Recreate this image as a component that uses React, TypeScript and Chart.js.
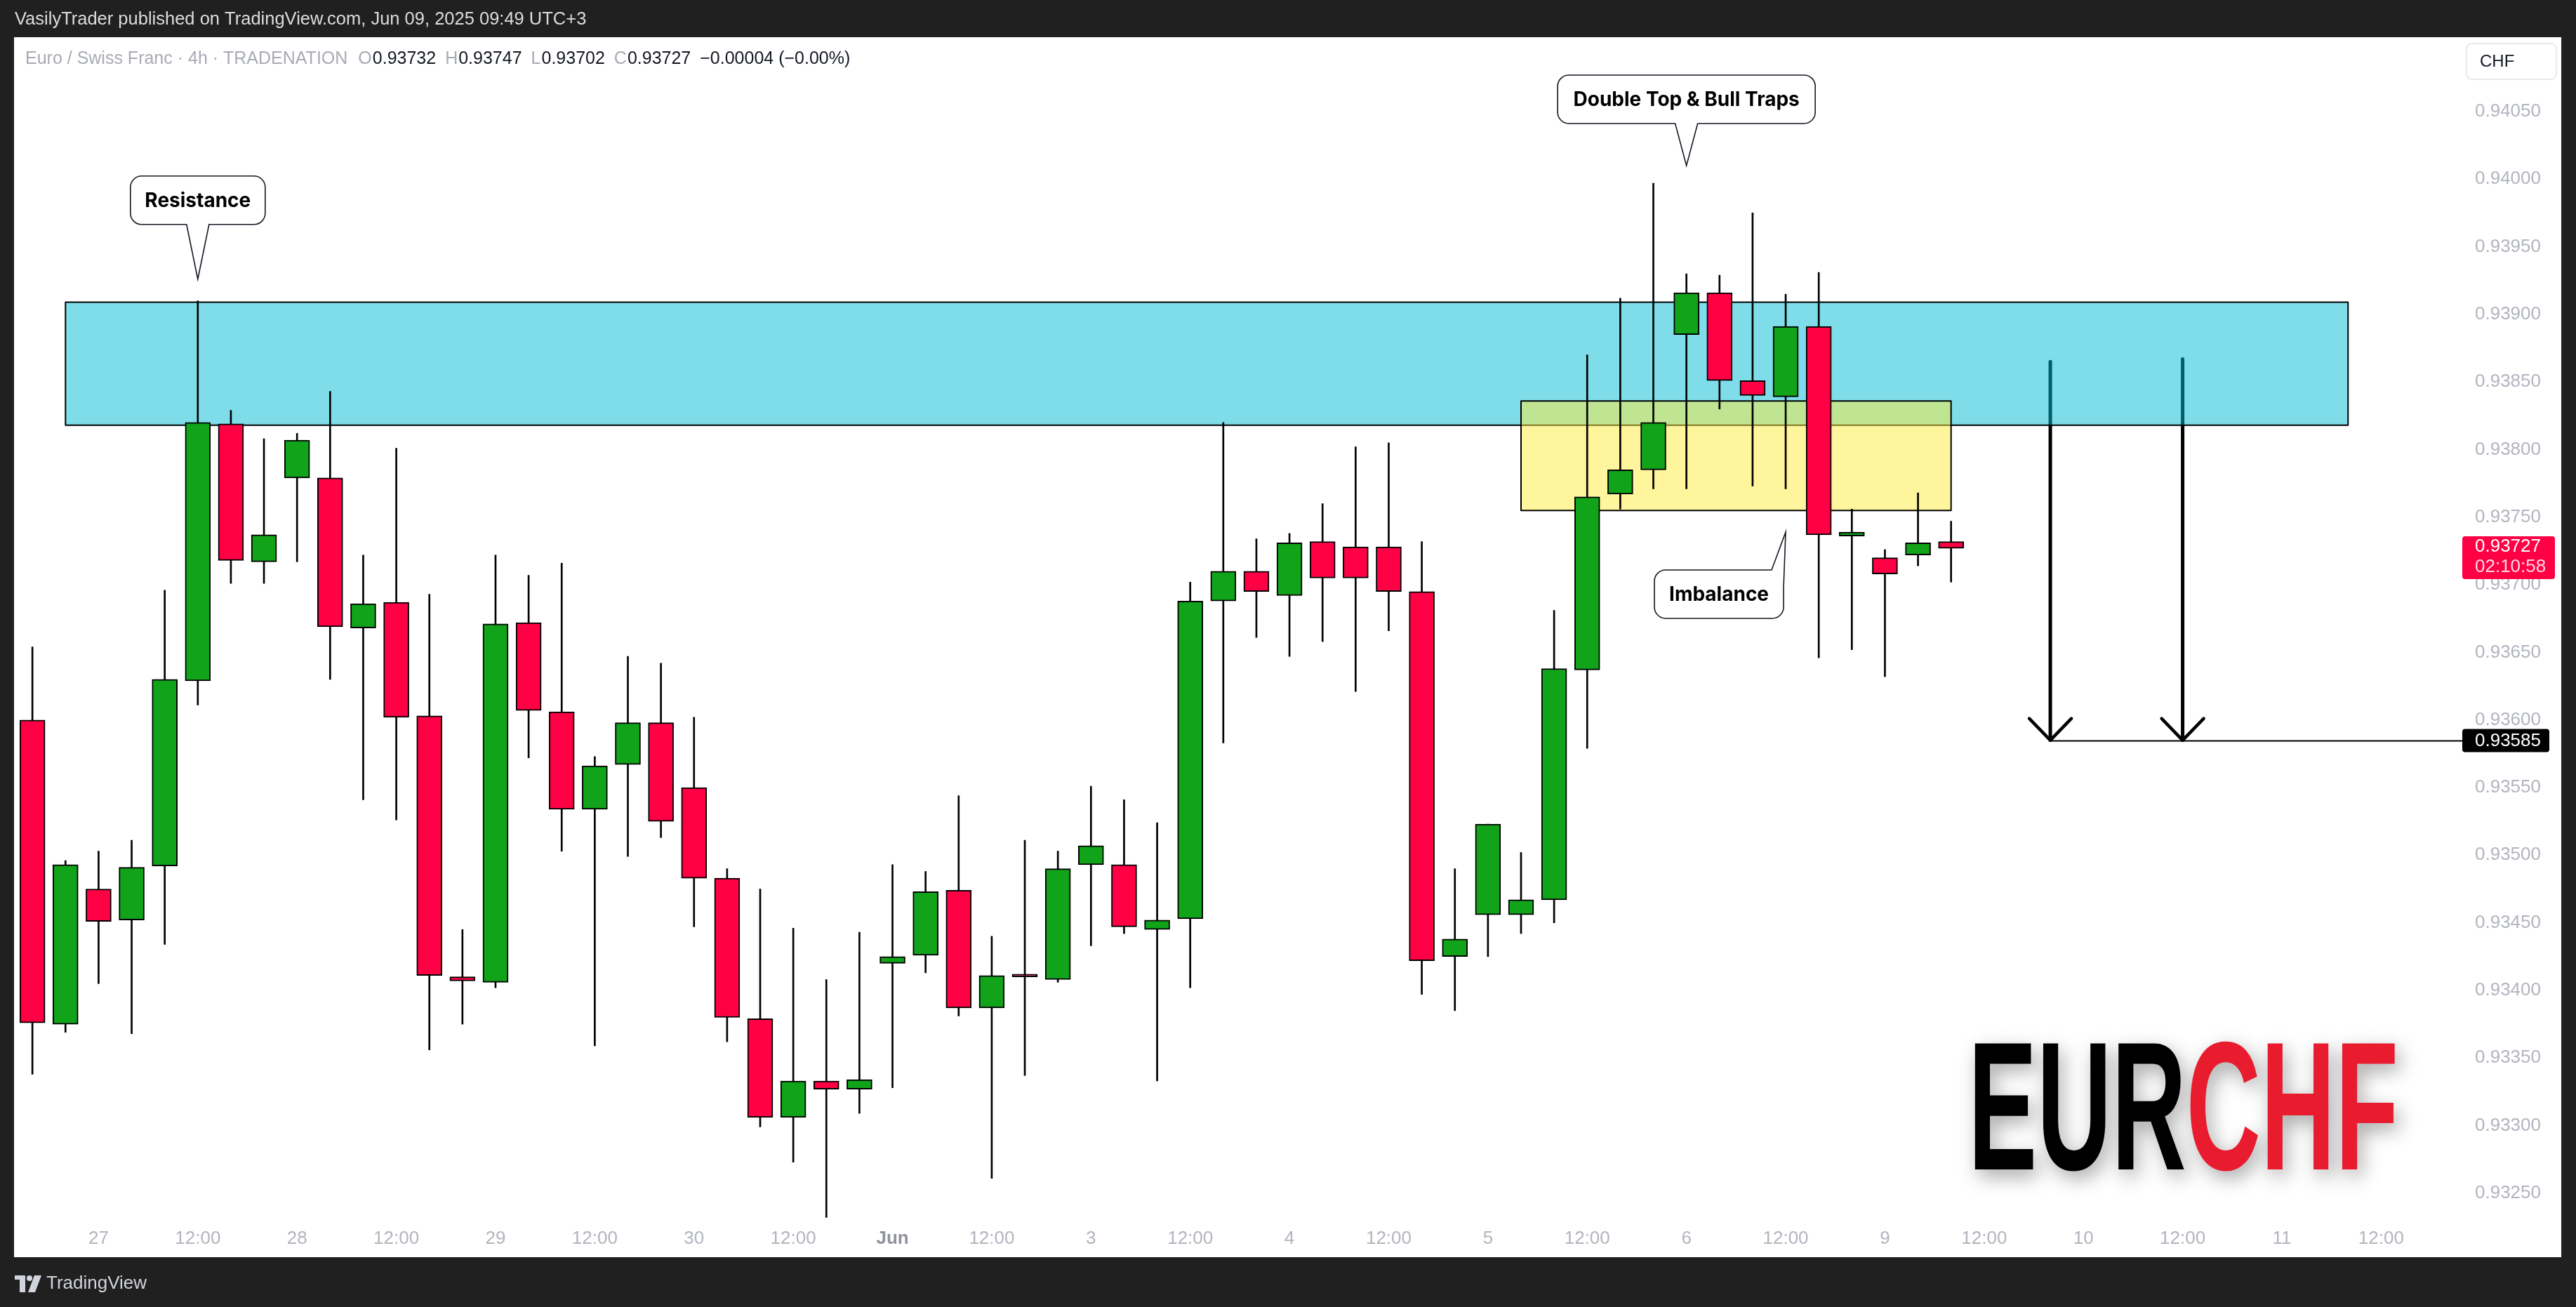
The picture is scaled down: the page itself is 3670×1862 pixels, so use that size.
import React, { useEffect, useRef } from 'react';
import { Chart, registerables } from 'chart.js';

Chart.register(...registerables);

// ---------------- data ----------------
const barIndex = [-2, -1, 0, 1, 2, 3, 4, 5, 6, 7, 8, 9, 10, 11, 12, 13, 14, 15, 16, 17, 18, 19, 20, 21, 22, 23, 24, 25, 26, 27, 28, 29, 30, 31, 32, 33, 34, 35, 36, 37, 38, 39, 40, 41, 42, 43, 44, 45, 46, 47, 48, 49, 50, 51, 52, 53, 54, 55, 56];
const opens = [0.93600, 0.93375, 0.93475, 0.93452, 0.93492, 0.93629, 0.93819, 0.93717, 0.93779, 0.93779, 0.93668, 0.93687, 0.93603, 0.93410, 0.93406, 0.93672, 0.93606, 0.93534, 0.93567, 0.93598, 0.93550, 0.93483, 0.93379, 0.93306, 0.93333, 0.93327, 0.93420, 0.93426, 0.93474, 0.93387, 0.93412, 0.93408, 0.93493, 0.93493, 0.93445, 0.93453, 0.93688, 0.93710, 0.93692, 0.93732, 0.93728, 0.93728, 0.93695, 0.93425, 0.93456, 0.93456, 0.93467, 0.93637, 0.93767, 0.93785, 0.93885, 0.93916, 0.93851, 0.93839, 0.93891, 0.93736, 0.93720, 0.93722, 0.93732];
const highs = [0.93654, 0.93496, 0.93503, 0.93511, 0.93696, 0.93910, 0.93829, 0.93808, 0.93812, 0.93843, 0.93722, 0.93801, 0.93693, 0.93445, 0.93722, 0.93707, 0.93716, 0.93573, 0.93647, 0.93642, 0.93602, 0.93490, 0.93475, 0.93446, 0.93408, 0.93443, 0.93493, 0.93488, 0.93544, 0.93440, 0.93511, 0.93503, 0.93551, 0.93541, 0.93524, 0.93702, 0.93820, 0.93734, 0.93738, 0.93760, 0.93802, 0.93805, 0.93732, 0.93490, 0.93523, 0.93502, 0.93681, 0.93870, 0.93912, 0.93997, 0.93930, 0.93929, 0.93975, 0.93915, 0.93931, 0.93756, 0.93726, 0.93768, 0.93747];
const lows = [0.93338, 0.93369, 0.93405, 0.93368, 0.93434, 0.93611, 0.93701, 0.93701, 0.93717, 0.93630, 0.93541, 0.93526, 0.93356, 0.93375, 0.93402, 0.93572, 0.93503, 0.93359, 0.93499, 0.93513, 0.93447, 0.93362, 0.93299, 0.93273, 0.93232, 0.93309, 0.93328, 0.93413, 0.93381, 0.93261, 0.93337, 0.93406, 0.93433, 0.93442, 0.93333, 0.93402, 0.93583, 0.93661, 0.93647, 0.93658, 0.93621, 0.93666, 0.93397, 0.93385, 0.93425, 0.93442, 0.93450, 0.93579, 0.93756, 0.93771, 0.93771, 0.93830, 0.93773, 0.93771, 0.93646, 0.93652, 0.93632, 0.93714, 0.93702];
const closes = [0.93376, 0.93493, 0.93451, 0.93491, 0.93630, 0.93820, 0.93718, 0.93737, 0.93807, 0.93669, 0.93686, 0.93602, 0.93411, 0.93407, 0.93671, 0.93607, 0.93534, 0.93566, 0.93598, 0.93525, 0.93483, 0.93380, 0.93306, 0.93333, 0.93327, 0.93334, 0.93425, 0.93473, 0.93387, 0.93411, 0.93410, 0.93490, 0.93507, 0.93447, 0.93452, 0.93688, 0.93710, 0.93695, 0.93731, 0.93705, 0.93705, 0.93695, 0.93422, 0.93438, 0.93523, 0.93467, 0.93638, 0.93765, 0.93785, 0.93820, 0.93916, 0.93851, 0.93840, 0.93891, 0.93737, 0.93739, 0.93708, 0.93731, 0.93727];

const timeTickIndex = [0, 3, 6, 9, 12, 15, 18, 21, 24, 27, 30, 33, 36, 39, 42, 45, 48, 51, 54, 57, 60, 63, 66, 69];
const timeTickLabels = ['27', '12:00', '28', '12:00', '29', '12:00', '30', '12:00', 'Jun', '12:00', '3', '12:00', '4', '12:00', '5', '12:00', '6', '12:00', '9', '12:00', '10', '12:00', '11', '12:00'];
const monthTickLabels = ['Jun'];
const priceTicks = [0.9325, 0.933, 0.9335, 0.934, 0.9345, 0.935, 0.9355, 0.936, 0.9365, 0.937, 0.9375, 0.938, 0.9385, 0.939, 0.9395, 0.94, 0.9405];

// drawings (in data coordinates)
const zoneStart = [-1, 43];
const zoneEnd = [68, 56];
const zoneTop = [0.93909, 0.93836];
const zoneBottom = [0.93818, 0.93755];
const zoneFill = ['rgba(0,188,212,0.5)', 'rgba(255,235,59,0.5)'];

const arrowIndex = [59, 63];
const arrowFrom = [0.93865, 0.93867];
const targetPrice = 0.93585;
const targetStart = 59;

const calloutTexts = ['Resistance', 'Double Top & Bull Traps', 'Imbalance'];
const calloutIndex = [3, 48, 51];
const calloutPrice = [0.93926, 0.9401, 0.93739];

const headerText = 'VasilyTrader published on TradingView.com, Jun 09, 2025 09:49 UTC+3';
const symbolTitle = 'Euro / Swiss Franc · 4h · TRADENATION';
const legendKeys = ['O', 'H', 'L', 'C'];
const legendValues = ['0.93732', '0.93747', '0.93702', '0.93727'];
const legendChange = '\u22120.00004 (\u22120.00%)';
const currencyLabel = 'CHF';
const countdownText = '02:10:58';
const logoLeft = 'EUR';
const logoRight = 'CHF';
const footerText = 'TradingView';

// ---------------- layout / style ----------------
const W = 3670;
const H = 1862;
const PANEL = { left: 20, top: 53, right: 3649, bottom: 1791 };
const PLOT_RIGHT = 3497;
const X_AXIS_H = 53;
const X_MIN = -2.555;
const X_MAX = 71.22;
const Y_MIN = 0.932302;
const Y_MAX = 0.94105;
const DARK = '#202020';
const UP = '#11a31a';
const DOWN = '#ff0044';
const AXIS_TXT = '#b2b5be';
const SANS = '"Liberation Sans", Arial, sans-serif';
const BOLD_UI = 'Inter, "Liberation Sans", sans-serif';

type Geo = { l: number; t: number; r: number; b: number };

function bubbleBottom(ctx: CanvasRenderingContext2D, g: Geo, rad: number, tx: number, ty: number, hw: number) {
  const { l, t, r, b } = g;
  ctx.beginPath();
  ctx.moveTo(l + rad, t);
  ctx.lineTo(r - rad, t);
  ctx.arcTo(r, t, r, t + rad, rad);
  ctx.lineTo(r, b - rad);
  ctx.arcTo(r, b, r - rad, b, rad);
  ctx.lineTo(tx + hw, b);
  ctx.lineTo(tx, ty);
  ctx.lineTo(tx - hw, b);
  ctx.lineTo(l + rad, b);
  ctx.arcTo(l, b, l, b - rad, rad);
  ctx.lineTo(l, t + rad);
  ctx.arcTo(l, t, l + rad, t, rad);
  ctx.closePath();
}

function bubbleTopRight(ctx: CanvasRenderingContext2D, g: Geo, rad: number, tx: number, ty: number, baseX: number, joinY: number) {
  const { l, t, r, b } = g;
  ctx.beginPath();
  ctx.moveTo(l + rad, t);
  ctx.lineTo(baseX, t);
  ctx.lineTo(tx, ty);
  ctx.lineTo(r, joinY);
  ctx.lineTo(r, b - rad);
  ctx.arcTo(r, b, r - rad, b, rad);
  ctx.lineTo(l + rad, b);
  ctx.arcTo(l, b, l, b - rad, rad);
  ctx.lineTo(l, t + rad);
  ctx.arcTo(l, t, l + rad, t, rad);
  ctx.closePath();
}

function roundRect(ctx: CanvasRenderingContext2D, l: number, t: number, w: number, h: number, r: number) {
  ctx.beginPath();
  ctx.moveTo(l + r, t);
  ctx.arcTo(l + w, t, l + w, t + h, r);
  ctx.arcTo(l + w, t + h, l, t + h, r);
  ctx.arcTo(l, t + h, l, t, r);
  ctx.arcTo(l, t, l + w, t, r);
  ctx.closePath();
}

const overlayPlugin = {
  id: 'tvOverlay',
  beforeDraw(chart: any) {
    const ctx: CanvasRenderingContext2D = chart.ctx;
    ctx.save();
    ctx.fillStyle = DARK;
    ctx.fillRect(0, 0, W, H);
    ctx.fillStyle = '#ffffff';
    ctx.fillRect(PANEL.left, PANEL.top, PANEL.right - PANEL.left, PANEL.bottom - PANEL.top);
    ctx.restore();
  },
  beforeDatasetsDraw(chart: any) {
    const ctx: CanvasRenderingContext2D = chart.ctx;
    const a = chart.chartArea;
    const xs = chart.scales.x;
    const ys = chart.scales.y;
    ctx.save();
    ctx.beginPath();
    ctx.rect(a.left, a.top, a.right - a.left, a.bottom - a.top);
    ctx.clip();
    // arrows
    ctx.strokeStyle = '#000';
    ctx.lineCap = 'round';
    ctx.lineJoin = 'round';
    arrowIndex.forEach((xi, k) => {
      const x = xs.getPixelForValue(xi);
      const y0 = ys.getPixelForValue(arrowFrom[k]);
      const y1 = ys.getPixelForValue(targetPrice);
      ctx.lineWidth = 5;
      ctx.beginPath();
      ctx.moveTo(x, y0);
      ctx.lineTo(x, y1);
      ctx.stroke();
      ctx.lineWidth = 4.5;
      ctx.beginPath();
      ctx.moveTo(x - 30, y1 - 31);
      ctx.lineTo(x, y1);
      ctx.lineTo(x + 30, y1 - 31);
      ctx.stroke();
    });
    // zones
    zoneStart.forEach((s, k) => {
      const x0 = xs.getPixelForValue(s);
      const x1 = xs.getPixelForValue(zoneEnd[k]);
      const yt = ys.getPixelForValue(zoneTop[k]);
      const yb = ys.getPixelForValue(zoneBottom[k]);
      ctx.fillStyle = zoneFill[k];
      ctx.fillRect(x0, yt, x1 - x0, yb - yt);
      ctx.lineWidth = 2;
      ctx.strokeStyle = '#000';
      ctx.strokeRect(x0, yt, x1 - x0, yb - yt);
    });
    ctx.restore();
    // target line
    ctx.save();
    const ty = Math.round(ys.getPixelForValue(targetPrice)) + 0.5;
    ctx.strokeStyle = '#000';
    ctx.lineWidth = 2;
    ctx.beginPath();
    ctx.moveTo(xs.getPixelForValue(targetStart), ty);
    ctx.lineTo(3510, ty);
    ctx.stroke();
    ctx.restore();
  },
  afterDatasetsDraw(chart: any) {
    const ctx: CanvasRenderingContext2D = chart.ctx;
    const xs = chart.scales.x;
    const ys = chart.scales.y;
    ctx.save();
    ctx.lineWidth = 1.6;
    ctx.strokeStyle = '#131722';
    ctx.fillStyle = '#ffffff';
    ctx.font = `700 28px ${BOLD_UI}`;
    ctx.textAlign = 'center';
    ctx.textBaseline = 'middle';
    calloutTexts.forEach((txt, k) => {
      const tx = xs.getPixelForValue(calloutIndex[k]);
      const ty = ys.getPixelForValue(calloutPrice[k]);
      let g: Geo;
      if (k === 2) {
        g = { l: tx - 187, r: tx - 3, t: ty + 54, b: ty + 123 };
        bubbleTopRight(ctx, g, 16, tx, ty, g.r - 17, g.t + 25);
      } else {
        const w = k === 0 ? 192 : 367;
        const gap = k === 0 ? 78 : 60;
        g = { l: tx - w / 2, r: tx + w / 2, b: ty - gap, t: ty - gap - 69 };
        bubbleBottom(ctx, g, 16, tx, ty, 16);
      }
      ctx.fillStyle = '#ffffff';
      ctx.fill();
      ctx.stroke();
      ctx.fillStyle = '#000000';
      ctx.fillText(txt, (g.l + g.r) / 2, (g.t + g.b) / 2 + 1);
    });
    ctx.restore();
  },
  afterDraw(chart: any) {
    const ctx: CanvasRenderingContext2D = chart.ctx;
    const ys = chart.scales.y;
    ctx.save();
    // header
    ctx.font = `25.5px ${SANS}`;
    ctx.fillStyle = '#dcdcdc';
    ctx.textBaseline = 'middle';
    ctx.textAlign = 'left';
    ctx.fillText(headerText, 21, 28);

    // legend
    let lx = 36;
    const ly = 84;
    ctx.font = `25px ${SANS}`;
    ctx.fillStyle = '#a8abb4';
    ctx.fillText(symbolTitle, lx, ly);
    lx += ctx.measureText(symbolTitle).width + 15;
    legendKeys.forEach((key, k) => {
      ctx.fillStyle = '#a8abb4';
      ctx.fillText(key, lx, ly);
      lx += ctx.measureText(key).width + 1;
      ctx.fillStyle = '#131722';
      ctx.fillText(legendValues[k], lx, ly);
      lx += ctx.measureText(legendValues[k]).width + 13;
    });
    ctx.fillStyle = '#131722';
    ctx.fillText(legendChange, lx, ly);

    // currency box
    ctx.strokeStyle = '#e0e3eb';
    ctx.lineWidth = 1.5;
    roundRect(ctx, 3514, 62, 128, 51, 8);
    ctx.fillStyle = '#ffffff';
    ctx.fill();
    ctx.stroke();
    ctx.fillStyle = '#131722';
    ctx.font = `24px ${SANS}`;
    ctx.fillText(currencyLabel, 3533, 88);

    // current price label
    const last = closes[closes.length - 1];
    const py = ys.getPixelForValue(last);
    ctx.fillStyle = DOWN;
    roundRect(ctx, 3508, py - 17, 132, 61, 4);
    ctx.fill();
    ctx.font = `26px ${SANS}`;
    ctx.fillStyle = '#ffffff';
    ctx.fillText(last.toFixed(5), 3526, py - 2);
    ctx.fillStyle = 'rgba(255,255,255,0.85)';
    ctx.fillText(countdownText, 3526, py + 27);

    // target label
    const ty = ys.getPixelForValue(targetPrice);
    ctx.fillStyle = '#000000';
    roundRect(ctx, 3508, ty - 16, 124, 33, 4);
    ctx.fill();
    ctx.fillStyle = '#ffffff';
    ctx.fillText(targetPrice.toFixed(5), 3526, ty + 1);

    // EURCHF logo
    ctx.font = `bold 261px "Liberation Sans Narrow", "Liberation Sans", sans-serif`;
    ctx.textBaseline = 'alphabetic';
    const w1 = ctx.measureText(logoLeft).width;
    const w2 = ctx.measureText(logoRight).width;
    const sx = 613 / (w1 + w2);
    ctx.save();
    ctx.shadowColor = 'rgba(0,0,0,0.35)';
    ctx.shadowBlur = 28;
    ctx.shadowOffsetX = 6;
    ctx.shadowOffsetY = 10;
    ctx.translate(2804, 1666);
    ctx.scale(sx, 1);
    ctx.fillStyle = '#000000';
    ctx.fillText(logoLeft, 0, 0);
    ctx.fillStyle = '#e81c2e';
    ctx.fillText(logoRight, w1, 0);
    ctx.restore();

    // footer logo
    ctx.fillStyle = '#d1d4dc';
    ctx.fillRect(21, 1817, 15, 6);
    ctx.fillRect(28, 1817, 8, 24);
    ctx.beginPath();
    ctx.arc(42, 1821, 4, 0, Math.PI * 2);
    ctx.fill();
    ctx.beginPath();
    ctx.moveTo(49, 1817);
    ctx.lineTo(59, 1817);
    ctx.lineTo(50, 1841);
    ctx.lineTo(40, 1841);
    ctx.closePath();
    ctx.fill();
    ctx.font = `26px ${SANS}`;
    ctx.textBaseline = 'middle';
    ctx.fillText(footerText, 66, 1829);
    ctx.restore();
  },
};

export default function App() {
  const ref = useRef<HTMLCanvasElement>(null);
  useEffect(() => {
    document.body.style.margin = '0';
    document.body.style.overflow = 'hidden';
    const canvas = ref.current;
    if (!canvas) return;
    const bodyColors = barIndex.map((_, k) => (closes[k] >= opens[k] ? UP : DOWN));
    const chart = new Chart(canvas, {
      type: 'bar',
      data: {
        datasets: [
          {
            label: 'wicks',
            data: barIndex.map((x, k) => ({ x, y: [lows[k], highs[k]] })) as any,
            backgroundColor: '#000000',
            borderWidth: 0,
            barThickness: 2,
            maxBarThickness: 2,
            grouped: false,
            order: 2,
          } as any,
          {
            label: 'bodies',
            data: barIndex.map((x, k) => ({ x, y: [opens[k], closes[k]] })) as any,
            backgroundColor: bodyColors,
            borderColor: '#000000',
            borderWidth: 2,
            borderSkipped: false,
            barThickness: 36,
            maxBarThickness: 36,
            grouped: false,
            order: 1,
          } as any,
        ],
      },
      options: {
        animation: false,
        responsive: false,
        devicePixelRatio: 1,
        events: [],
        layout: { padding: { left: PANEL.left, top: PANEL.top, right: W - PANEL.right, bottom: H - PANEL.bottom } },
        plugins: { legend: { display: false }, tooltip: { enabled: false } },
        scales: {
          x: {
            type: 'linear',
            min: X_MIN,
            max: X_MAX,
            bounds: 'data',
            offset: false,
            grid: { display: false, drawTicks: false },
            border: { display: false },
            afterBuildTicks: (s: any) => {
              s.ticks = timeTickIndex.map((v) => ({ value: v }));
            },
            afterFit: (s: any) => {
              s.height = X_AXIS_H;
            },
            ticks: {
              autoSkip: false,
              maxRotation: 0,
              minRotation: 0,
              padding: 11,
              color: (c: any) => (c.tick && monthTickLabels.includes(timeTickLabels[timeTickIndex.indexOf(c.tick.value)]) ? '#8f929c' : AXIS_TXT),
              font: (c: any) => ({
                family: SANS,
                size: 26,
                weight: c.tick && monthTickLabels.includes(timeTickLabels[timeTickIndex.indexOf(c.tick.value)]) ? 'bold' : 'normal',
              }),
              callback: (v: any) => {
                const i = timeTickIndex.indexOf(Math.round(Number(v)));
                return i >= 0 ? timeTickLabels[i] : '';
              },
            },
          } as any,
          y: {
            type: 'linear',
            position: 'right',
            min: Y_MIN,
            max: Y_MAX,
            bounds: 'data',
            beginAtZero: false,
            grid: { display: false, drawTicks: false },
            border: { display: false },
            afterBuildTicks: (s: any) => {
              s.ticks = priceTicks.map((v) => ({ value: v }));
            },
            afterFit: (s: any) => {
              s.width = PANEL.right - PLOT_RIGHT;
            },
            ticks: {
              padding: 29,
              color: AXIS_TXT,
              font: { family: SANS, size: 26 },
              callback: (v: any) => Number(v).toFixed(5),
            },
          } as any,
        },
      },
      plugins: [overlayPlugin as any],
    });
    return () => chart.destroy();
  }, []);
  return (
    <div style={{ position: 'absolute', left: 0, top: 0, width: W, height: H, overflow: 'hidden' }}>
      <canvas ref={ref} width={W} height={H} style={{ display: 'block', width: W, height: H }} />
    </div>
  );
}
